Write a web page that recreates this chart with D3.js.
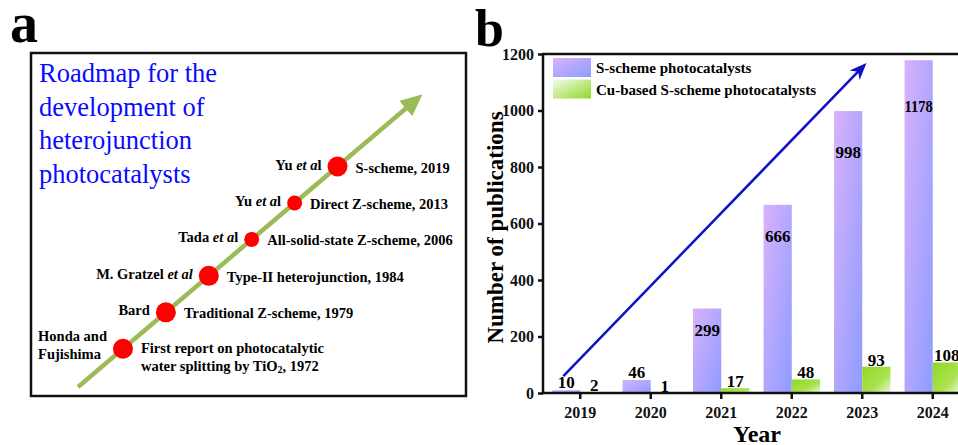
<!DOCTYPE html>
<html>
<head>
<meta charset="utf-8">
<script src="https://cdn.jsdelivr.net/npm/d3@7"></script>
<style>
  body { margin: 0; background: #fff; }
  svg { display: block; }
  svg text { font-family: "Liberation Serif", "Times New Roman", Times, serif; }
</style>
</head>
<body>
<div id="chart"></div>
<script>
// ---- panel a: roadmap milestones
const milestoneYears = [1972, 1979, 1984, 2006, 2013, 2019];
const milestoneNames = [
  ["First report on photocatalytic", "water splitting by TiO\u2082, 1972"],
  ["Traditional Z-scheme, 1979"],
  ["Type-II heterojunction, 1984"],
  ["All-solid-state Z-scheme, 2006"],
  ["Direct Z-scheme, 2013"],
  ["S-scheme, 2019"]
];
const milestoneAuthors = [
  [["Honda and"], ["Fujishima"]],
  [["Bard"]],
  [["M. Gratzel ", "et al"]],
  [["Tada ", "et a", "l"]],
  [["Yu ", "et a", "l"]],
  [["Yu ", "et a", "l"]]
];
const smallDots = [2006, 2013];
const titleLines = ["Roadmap for the", "development of", "heterojunction", "photocatalysts"];

// ---- panel b: publications per year
const years = ["2019", "2020", "2021", "2022", "2023", "2024"];
const sScheme = [10, 46, 299, 666, 998, 1178];
const cuScheme = [2, 1, 17, 48, 93, 108];
const seriesNames = ["S-scheme photocatalysts", "Cu-based S-scheme photocatalysts"];
const yTicks = [0, 200, 400, 600, 800, 1000, 1200];
// trend arrow: [year index, value] at tail and head
const trendIdx = [-0.24, 4.06];
const trendVal = [60, 1168];

const W = 958, H = 445;
const serif = "'Liberation Serif', 'Times New Roman', Times, serif";
const svg = d3.select("#chart").append("svg")
  .attr("width", W)
  .attr("height", H)
  .attr("font-family", serif);

const defs = svg.append("defs");

function grad(id, stops) {
  const g = defs.append("linearGradient")
    .attr("id", id)
    .attr("x1", 0).attr("y1", 0).attr("x2", 1).attr("y2", 1)
    .attr("spreadMethod", "reflect");
  stops.forEach(s => g.append("stop").attr("offset", s[0]).attr("stop-color", s[1]));
}
grad("gBlue", [[0, "#d8b2fc"], [1, "#8e9cff"]]);
grad("gGreen", [[0, "#90d826"], [0.6, "#a9e24e"], [1, "#eaf7dc"]]);
grad("gGreenLeg", [[0, "#f4fbef"], [1, "#8fd826"]]);

const bold = "bold";

// =================== panel a ===================
svg.append("text")
  .attr("x", 10).attr("y", 42)
  .style("font-size", "56px").style("font-weight", bold)
  .text("a");

const frame = { x: 31, y: 53, w: 435, h: 343 };
svg.append("rect")
  .attr("x", frame.x).attr("y", frame.y)
  .attr("width", frame.w).attr("height", frame.h)
  .attr("fill", "none").attr("stroke", "#111").attr("stroke-width", 2.5);

svg.append("g").selectAll("text")
  .data(titleLines)
  .join("text")
  .attr("x", 39)
  .attr("y", (d, i) => 82 + i * 33.5)
  .attr("fill", "#0a0aff")
  .style("font-size", "26.5px")
  .text(d => d);

// green roadmap arrow
const road = { x0: 78, y0: 387, x1: 424, y1: 93 };
defs.append("marker")
  .attr("id", "greenHead")
  .attr("markerUnits", "userSpaceOnUse")
  .attr("viewBox", "0 -10 22 20")
  .attr("refX", 2).attr("refY", 0)
  .attr("markerWidth", 22).attr("markerHeight", 20)
  .attr("orient", "auto")
  .append("path")
  .attr("d", "M0,-10L22,0L0,10Z")
  .attr("fill", "#9bbb59");

const ang = Math.atan2(road.y1 - road.y0, road.x1 - road.x0);
svg.append("line")
  .attr("x1", road.x0).attr("y1", road.y0)
  .attr("x2", road.x1 - 22 * Math.cos(ang)).attr("y2", road.y1 - 22 * Math.sin(ang))
  .attr("stroke", "#9bbb59").attr("stroke-width", 4.5)
  .attr("marker-end", "url(#greenHead)");

// position of each milestone along the arrow
const tPos = d3.scalePoint().domain(milestoneYears).range([0.13, 0.75]);
const px = yr => road.x0 + tPos(yr) * (road.x1 - road.x0);
const py = yr => road.y0 + tPos(yr) * (road.y1 - road.y0);
const rad = yr => smallDots.includes(yr) ? 7.5 : 10;

const ms = svg.append("g");
milestoneYears.forEach((yr, i) => {
  const cx = px(yr), cy = py(yr), r = rad(yr);
  ms.append("circle")
    .attr("cx", cx).attr("cy", cy).attr("r", r)
    .attr("fill", "#ff0000");

  // scheme name to the right
  const names = milestoneNames[i];
  const y0 = names.length > 1 ? cy + 4 : cy + 6;
  names.forEach((line, k) => {
    const t = ms.append("text")
      .attr("x", cx + r + 8)
      .attr("y", y0 + k * 18)
      .style("font-size", "14.5px").style("font-weight", bold);
    if (line.includes("TiO\u2082")) {
      const parts = line.split("TiO\u2082");
      t.append("tspan").text(parts[0] + "TiO");
      t.append("tspan").text("2").style("font-size", "10px").attr("dy", 2);
      t.append("tspan").text(parts[1]).attr("dy", -2);
    } else {
      t.text(line);
    }
  });

  // authors to the left
  const auth = milestoneAuthors[i];
  const texts = auth.map((parts, k) => {
    const t = ms.append("text")
      .attr("y", auth.length > 1 ? cy - 8 + k * 18 : cy + 3)
      .style("font-size", "14.5px").style("font-weight", bold);
    parts.forEach(p => {
      t.append("tspan").text(p)
        .style("font-style", p.startsWith("et") ? "italic" : "normal");
    });
    return t;
  });
  const endX = cx - r - 6;
  if (auth.length > 1) {
    const maxW = d3.max(texts, t => t.node().getComputedTextLength());
    texts.forEach(t => t.attr("x", endX - maxW));
  } else {
    texts.forEach(t => t.attr("x", endX).attr("text-anchor", "end"));
  }
});

// =================== panel b ===================
svg.append("text")
  .attr("x", 475).attr("y", 46)
  .style("font-size", "52px").style("font-weight", bold)
  .text("b");

const plot = { left: 543, top: 54, right: 968, bottom: 393 };

const x = d3.scaleBand()
  .domain(years)
  .range([plot.left + 2, plot.right])
  .paddingInner(0.2)
  .paddingOuter(0.1);
const xSub = d3.scaleBand()
  .domain([0, 1])
  .range([0, x.bandwidth()]);
const y = d3.scaleLinear()
  .domain([0, 1200])
  .range([plot.bottom, plot.top]);

// bars
const bars = svg.append("g");
bars.selectAll("rect.s")
  .data(years)
  .join("rect")
  .attr("class", "s")
  .attr("x", d => x(d) + xSub(0))
  .attr("y", (d, i) => y(sScheme[i]))
  .attr("width", xSub.bandwidth())
  .attr("height", (d, i) => y(0) - y(sScheme[i]))
  .attr("fill", "url(#gBlue)");

bars.selectAll("rect.cu")
  .data(years)
  .join("rect")
  .attr("class", "cu")
  .attr("x", d => x(d) + xSub(1))
  .attr("y", (d, i) => y(cuScheme[i]))
  .attr("width", xSub.bandwidth())
  .attr("height", (d, i) => y(0) - y(cuScheme[i]))
  .attr("fill", "url(#gGreen)");

// value labels
const inside = d3.scaleLinear().domain([299, 1178]).range([27, 52]).clamp(true);
const labels = svg.append("g")
  .style("font-size", "17px").style("font-weight", bold)
  .attr("text-anchor", "middle");

labels.selectAll("text.s")
  .data(years)
  .join("text")
  .attr("class", "s")
  .attr("x", d => x(d) + xSub(0) + xSub.bandwidth() / 2)
  .attr("y", (d, i) => sScheme[i] > 200 ? y(sScheme[i]) + inside(sScheme[i]) : y(sScheme[i]) - 2)
  .text((d, i) => sScheme[i])
  .each(function () {
    if (this.getComputedTextLength() > xSub.bandwidth()) {
      d3.select(this).attr("textLength", xSub.bandwidth()).attr("lengthAdjust", "spacingAndGlyphs");
    }
  });

labels.selectAll("text.cu")
  .data(years)
  .join("text")
  .attr("class", "cu")
  .attr("x", d => x(d) + xSub(1) + xSub.bandwidth() / 2)
  .attr("y", (d, i) => y(cuScheme[i]) - 1)
  .text((d, i) => cuScheme[i]);

// frame
svg.append("rect")
  .attr("x", plot.left).attr("y", plot.top)
  .attr("width", plot.right - plot.left).attr("height", plot.bottom - plot.top)
  .attr("fill", "none").attr("stroke", "#111").attr("stroke-width", 2.5);

// axes
const yAxis = svg.append("g")
  .attr("transform", `translate(${plot.left},0)`)
  .call(d3.axisLeft(y).tickValues(yTicks).tickFormat(d3.format("d")).tickSize(5).tickPadding(4));
const xAxis = svg.append("g")
  .attr("transform", `translate(0,${plot.bottom})`)
  .call(d3.axisBottom(x).tickSize(6).tickPadding(8));

[xAxis, yAxis].forEach(a => {
  a.attr("font-family", serif);
  a.select(".domain").remove();
  a.selectAll("line").attr("stroke", "#111").attr("stroke-width", 2.5);
  a.selectAll("text")
    .attr("fill", "#111")
    .style("font-size", "16px").style("font-weight", bold);
});

// axis titles
svg.append("text")
  .attr("transform", `translate(503, ${(plot.top + plot.bottom) / 2 + 4}) rotate(-90)`)
  .attr("text-anchor", "middle")
  .style("font-size", "23px").style("font-weight", bold)
  .text("Number of publications");

svg.append("text")
  .attr("x", 757).attr("y", 442)
  .attr("text-anchor", "middle")
  .style("font-size", "24px").style("font-weight", bold)
  .text("Year");

// legend
const legend = svg.append("g").attr("transform", "translate(553, 58)");
const legFills = ["url(#gBlue)", "url(#gGreenLeg)"];
seriesNames.forEach((name, i) => {
  legend.append("rect")
    .attr("x", 0).attr("y", i * 21.5)
    .attr("width", 38).attr("height", 19)
    .attr("fill", legFills[i]);
  legend.append("text")
    .attr("x", 43).attr("y", i * 21.5 + 15)
    .style("font-size", "15px").style("font-weight", bold)
    .text(name);
});

// blue trend arrow
const xIdx = d3.scaleLinear()
  .domain([0, years.length - 1])
  .range([x(years[0]) + x.bandwidth() / 2, x(years[years.length - 1]) + x.bandwidth() / 2]);
const ax0 = xIdx(trendIdx[0]), ay0 = y(trendVal[0]);
const ax1 = xIdx(trendIdx[1]), ay1 = y(trendVal[1]);
const a2 = Math.atan2(ay1 - ay0, ax1 - ax0);
svg.append("line")
  .attr("x1", ax0).attr("y1", ay0)
  .attr("x2", ax1 - 10 * Math.cos(a2)).attr("y2", ay1 - 10 * Math.sin(a2))
  .attr("stroke", "#1010c8").attr("stroke-width", 2.5);
svg.append("path")
  .attr("d", "M0,0L-17,-7L-12,0L-17,7Z")
  .attr("transform", `translate(${ax1},${ay1}) rotate(${a2 * 180 / Math.PI})`)
  .attr("fill", "#1010c8");
</script>
</body>
</html>
